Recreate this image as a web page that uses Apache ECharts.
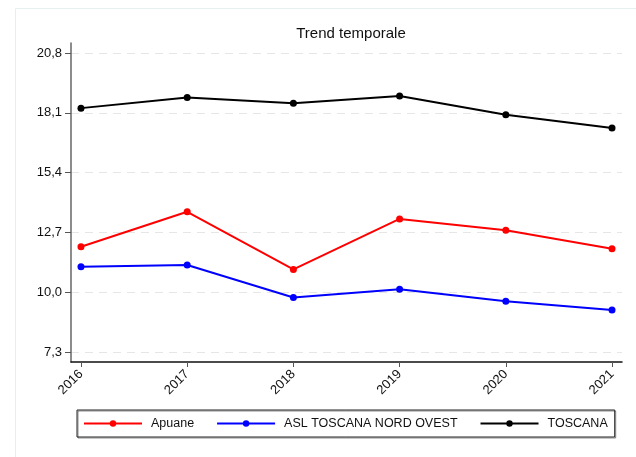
<!DOCTYPE html>
<html>
<head>
<meta charset="utf-8">
<script src="https://cdn.jsdelivr.net/npm/echarts@6/dist/echarts.min.js"></script>
<style>
  html, body { margin: 0; padding: 0; background: #fff; }
  #chart { width: 636px; height: 457px; }
</style>
</head>
<body>
<div id="chart"></div>
<script>
// Anni e valori per area
const years = [2016, 2017, 2018, 2019, 2020, 2021];
const apuane = [12.05, 13.63, 11.03, 13.31, 12.80, 11.96];
const aslNordOvest = [11.15, 11.23, 9.76, 10.13, 9.59, 9.20];
const toscana = [18.31, 18.79, 18.53, 18.86, 18.01, 17.41];
const yTicks = [7.3, 10.0, 12.7, 15.4, 18.1, 20.8];

const FONT = 'Liberation Sans, Arial, sans-serif';

function pairs(vals) {
  return years.map((y, i) => [y, vals[i]]);
}

function lineSeries(name, color, vals) {
  return {
    name: name,
    type: 'line',
    data: pairs(vals),
    symbol: 'circle',
    symbolSize: 7,
    lineStyle: { color: color, width: 2 },
    itemStyle: { color: color },
    emphasis: { disabled: true },
    animation: false
  };
}

const chart = echarts.init(document.getElementById('chart'), null, { renderer: 'canvas' });
chart.setOption({
  backgroundColor: '#ffffff',
  animation: false,
  graphic: [{
    type: 'rect',
    left: 13, top: 6,
    shape: { width: 640, height: 460 },
    style: { fill: 'none', stroke: '#e6eef0', lineWidth: 1 },
    silent: true,
    z: -10
  }],
  title: {
    text: 'Trend temporale',
    left: 346, top: 21,
    textAlign: 'center',
    textStyle: { fontFamily: FONT, fontSize: 15, fontWeight: 'normal', color: '#111' }
  },
  grid: { left: 71, right: 14, top: 43, bottom: 95, containLabel: false },
  xAxis: {
    type: 'value',
    min: 2015.906,
    max: 2021.094,
    axisLine: { show: true, onZero: false, lineStyle: { color: '#111', width: 1.5 } },
    axisTick: { show: true, length: 5, customValues: years, lineStyle: { color: '#555', width: 1 } },
    axisLabel: {
      customValues: years,
      rotate: 45,
      margin: 10,
      fontFamily: FONT, fontSize: 13, color: '#111',
      formatter: v => String(Math.round(v))
    },
    splitLine: { show: false }
  },
  yAxis: {
    type: 'value',
    min: 6.85,
    max: 21.25,
    axisLine: { show: true, lineStyle: { color: '#666', width: 1.5 } },
    axisTick: { show: true, length: 6, customValues: yTicks, lineStyle: { color: '#555', width: 1 } },
    axisLabel: {
      customValues: yTicks,
      margin: 9,
      fontFamily: FONT, fontSize: 13, color: '#111',
      formatter: v => v.toFixed(1).replace('.', ',')
    },
    splitLine: {
      show: true,
      lineStyle: { color: '#e6e6e6', width: 1, type: [8, 6] }
    }
  },
  legend: {
    data: ['Apuane', 'ASL TOSCANA NORD OVEST', 'TOSCANA'],
    left: 77, top: 410,
    width: 540,
    itemWidth: 58,
    itemHeight: 8,
    itemGap: 22,
    padding: [7, 7, 7, 6],
    borderColor: '#222',
    borderWidth: 1,
    shadowColor: 'rgba(0,0,0,0.45)',
    shadowOffsetX: 1,
    shadowOffsetY: 1,
    textStyle: { fontFamily: FONT, fontSize: 12.5, color: '#111', padding: [0, 0, 0, 4] },
    itemStyle: { borderWidth: 0 },
    selectedMode: false
  },
  series: [
    lineSeries('Apuane', '#ff0000', apuane),
    lineSeries('ASL TOSCANA NORD OVEST', '#0000ff', aslNordOvest),
    lineSeries('TOSCANA', '#000000', toscana)
  ]
});
</script>
</body>
</html>
